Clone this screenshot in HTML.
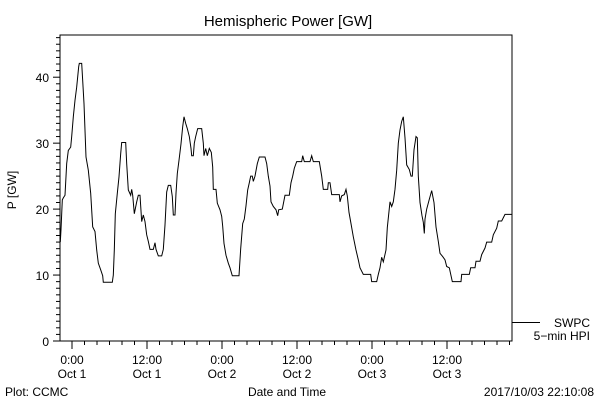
<!DOCTYPE html>
<html><head><meta charset="utf-8"><style>
html,body{margin:0;padding:0;background:#fff;}
svg{display:block;font-family:"Liberation Sans",sans-serif;}
text{fill:#000;font-size:12px;}
</style></head><body>
<svg id="chart" width="600" height="400" viewBox="0 0 600 400">
<rect width="600" height="400" fill="#fff"/>
<text x="288" y="26" text-anchor="middle" style="font-size:15px">Hemispheric Power [GW]</text>
<rect x="60" y="35" width="452" height="306" fill="none" stroke="#000" stroke-width="1"/>
<g id="yaxis"></g>
<g id="xaxis"></g>
<text transform="translate(16,190) rotate(-90)" text-anchor="middle">P [GW]</text>
<text x="287" y="396" text-anchor="middle">Date and Time</text>
<text x="5" y="396">Plot: CCMC</text>
<text x="594" y="396" text-anchor="end">2017/10/03 22:10:08</text>
<g>
<line x1="512" y1="322.5" x2="540" y2="322.5" stroke="#000"/>
<text x="590" y="327" text-anchor="end">SWPC</text>
<text x="590" y="340" text-anchor="end">5−min HPI</text>
</g>
<polyline id="series" fill="none" stroke="#000" stroke-width="1"/>
</svg>
<script>
const hours = [-1.87,-1.76,-1.55,-1.39,-1.12,-0.85,-0.59,-0.21,-0.05,0.21,0.48,0.75,1.07,1.17,1.55,1.71,1.92,2.24,2.61,2.99,3.31,3.68,3.95,4.21,4.59,4.91,5.01,6.45,6.61,6.77,6.93,7.25,7.52,7.79,7.95,8.59,8.75,9.01,9.39,9.55,9.71,9.97,10.35,10.61,10.88,11.15,11.41,11.68,11.95,12.21,12.48,13.01,13.28,13.44,13.81,14.35,14.61,14.88,15.15,15.41,15.79,16.05,16.21,16.48,16.64,16.85,17.12,17.44,17.71,17.92,18.19,18.45,18.77,19.04,19.15,19.41,19.57,19.79,20.11,20.75,21.01,21.12,21.39,21.65,21.97,22.29,22.51,22.61,23.04,23.25,23.68,23.95,24.11,24.32,24.64,25.01,25.28,25.65,26.72,26.99,27.31,27.57,27.84,28.11,28.37,28.59,28.85,29.01,29.28,29.65,29.97,30.88,31.15,31.41,31.68,31.84,32.21,32.64,32.91,33.07,33.65,34.08,34.77,35.04,35.31,35.57,35.95,36.75,36.91,37.17,38.08,38.35,38.61,39.57,39.95,40.21,40.91,41.01,41.28,41.55,42.77,42.88,43.15,43.57,43.84,44.05,44.32,44.64,45.01,45.44,45.81,46.08,46.61,47.79,47.95,48.75,49.01,49.28,49.55,49.81,50.24,50.45,50.88,51.15,51.41,51.68,51.95,52.21,52.48,52.75,53.01,53.28,53.55,53.97,54.24,54.45,54.72,55.04,55.25,55.41,55.68,56.0,56.21,56.37,56.48,56.75,57.17,57.55,57.92,58.24,58.61,58.88,59.31,59.68,59.95,60.37,60.85,62.24,62.35,63.57,63.79,64.48,64.64,65.28,65.55,66.08,66.35,67.15,67.41,67.95,68.21,68.75,69.28,70.35];
const power = [15.0,16.9,21.4,21.7,22.1,26.9,28.9,29.4,31,34,36.5,38.5,41.6,42.1,42.1,39.5,36,27.9,25.9,22.4,17.3,16.6,13.8,11.8,10.8,9.9,8.9,8.9,10,13.8,19.3,22.4,24.9,28.4,30.1,30.1,26.9,22.9,22.1,23,22.1,19.3,21.1,22.1,22.1,18.1,19.1,18.1,16.1,15.1,13.9,13.9,14.9,13.9,12.9,12.9,13.9,17.6,22.6,23.6,23.6,21.9,19.1,19.1,22.4,25.4,27.4,29.9,32.5,34,33,32.2,31,29.2,28.1,28.1,30,31,32.2,32.2,30,28.1,29.2,28.1,29.2,28.6,26.4,23,23,20.9,19.9,18.9,17.4,14.8,13,11.8,11.1,9.9,9.9,14,17.8,18.5,20.5,22.9,24,25,25,24.2,25,26.9,27.9,27.9,26.9,25,23.5,21.1,20.4,19.9,19,19.9,20,22.1,22.1,24,25,26.2,27.2,27.2,28.1,27.2,27.2,28.1,27.2,27.2,25,23,23,24,24,22.2,22.2,21.1,22,22.2,23,22,19.5,17.8,15.8,13.8,12.3,11.1,10.1,10.1,9,9,10.1,11.1,12.7,12,13.8,17.2,21.1,20.4,21.1,23,25.9,30,32,33.3,34,30.8,26.7,26,25,25,29,31,30.8,25,21,19,18,16.3,18.5,20,21.5,22.8,21,17.3,15.1,13.3,12.8,12.3,11.3,11.1,9,9,10.1,10.1,11.1,11.1,12.1,12.1,13.1,14.1,15,15,16.1,17.1,18.2,18.2,19.2,19.2];
const yTickValues = [0,10,20,30,40];
const xTickHours = [0,12,24,36,48,60];
const xTickTimes = ["0:00","12:00","0:00","12:00","0:00","12:00"];
const xTickDates = ["Oct 1","Oct 1","Oct 2","Oct 2","Oct 3","Oct 3"];

const NS = "http://www.w3.org/2000/svg";
const X0 = 60, X1 = 512, Y0 = 341, Y1 = 35;
const HMIN = -1.92, HMAX = 70.4, VMIN = 0, VMAX = 46.4;
function xs(h){ return X0 + (h - HMIN) / (HMAX - HMIN) * (X1 - X0); }
function ys(v){ return Y0 - (v - VMIN) / (VMAX - VMIN) * (Y0 - Y1); }
function mk(tag, attrs, parent){
  const e = document.createElementNS(NS, tag);
  for (const k in attrs) e.setAttribute(k, attrs[k]);
  parent.appendChild(e); return e;
}
const yax = document.getElementById('yaxis');
for (let v = 0; v <= 46; v++) {
  const major = v % 10 === 0;
  const t = mk('line', {x1: X0 - (major ? 7 : 4), x2: X0, y1: ys(v), y2: ys(v), stroke: '#000'}, yax);
  
  
}
yTickValues.forEach(v => {
  const t = mk('text', {x: 49, y: ys(v) + 5, 'text-anchor': 'end'}, yax);
  t.textContent = String(v);
  
  
});
const xax = document.getElementById('xaxis');
for (let h = 0; h <= 70; h += 2) {
  const major = h % 12 === 0;
  const t = mk('line', {x1: xs(h), x2: xs(h), y1: Y0, y2: Y0 + (major ? 8 : 4), stroke: '#000'}, xax);
  
  
}
xTickHours.forEach((h, i) => {
  const a = mk('text', {x: xs(h), y: 364, 'text-anchor': 'middle'}, xax);
  a.textContent = xTickTimes[i];
  
  
  const b = mk('text', {x: xs(h), y: 378, 'text-anchor': 'middle'}, xax);
  b.textContent = xTickDates[i];
  
  
});
document.getElementById('series').setAttribute('points',
  hours.map((h, i) => xs(h).toFixed(2) + ',' + ys(power[i]).toFixed(2)).join(' '));
</script>
</body></html>
